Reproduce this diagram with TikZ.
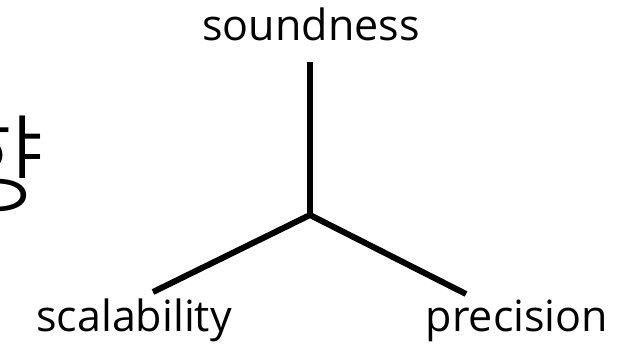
\documentclass[tikz,border=0pt]{standalone}
\usepackage{fontspec}
\setmainfont{Open Sans}
\newfontfamily\krfont{Noto Sans CJK KR Light}
\begin{document}
\begin{tikzpicture}[x=1pt,y=-1pt,
  lbl/.style={font=\fontsize{43}{47}\selectfont, inner sep=0pt, anchor=base},
  edge/.style={line width=6pt}]
\clip (0,0) rectangle (642,345);
\useasboundingbox (0,0) rectangle (642,345);
\node[inner sep=0pt, anchor=base east, font=\krfont\fontsize{108}{116}\selectfont] (kr) at (45,204) {향};
\node[lbl] (snd) at (311,41) {soundness};
\node[lbl] (scl) at (134,331) {scalability};
\node[lbl] (prc) at (517,331) {precision};
\coordinate (c) at (310,215);
\coordinate (top) at (310,62);
\coordinate (left) at (153,292);
\coordinate (right) at (466,294);
\draw[edge] (top) -- (c);
\draw[edge] (left) -- (c) -- (right);
\end{tikzpicture}
\end{document}
